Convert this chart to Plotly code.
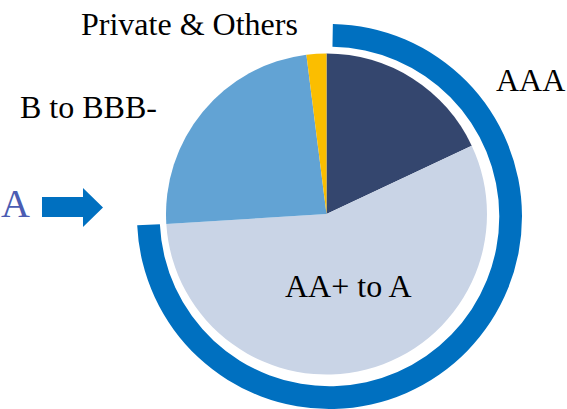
import plotly.graph_objects as go

# Portfolio split by credit rating (%)
ratings = ["AAA", "AA+ to A", "B to BBB-", "Private & Others"]
shares = [18, 56, 24, 2]
slice_colors = ["#34466E", "#C9D4E6", "#62A3D4", "#FBBE00"]

# Ratings of A and above, highlighted by the outer ring
highlight = ["AAA", "AA+ to A"]

W, H = 567, 409
FONT = "'Liberation Serif', 'DejaVu Serif', serif"


def px_x(x):
    return x / W


def px_y(y):
    return 1 - y / H


fig = go.Figure()

# Main pie
fig.add_trace(go.Pie(
    labels=ratings,
    values=shares,
    marker=dict(colors=slice_colors, line=dict(width=0)),
    sort=False,
    direction="clockwise",
    rotation=0,
    textinfo="none",
    hoverinfo="label+percent",
    domain=dict(x=[px_x(166), px_x(487)], y=[px_y(374.5), px_y(53.5)]),
    showlegend=False,
))

# Outer ring spanning the A-and-above share of the portfolio
hi_total = sum(v for r, v in zip(ratings, shares) if r in highlight)
rest_total = sum(shares) - hi_total
fig.add_trace(go.Pie(
    labels=["A and above", "other"],
    values=[hi_total, rest_total],
    marker=dict(colors=["#0070C0", "rgba(0,0,0,0)"], line=dict(width=0)),
    sort=False,
    direction="clockwise",
    rotation=1,
    hole=0.882,
    textinfo="none",
    hoverinfo="skip",
    domain=dict(x=[px_x(136), px_x(523)], y=[0, px_y(24)]),
    showlegend=False,
))

# Block arrow pointing at the ring
arrow = [(42, 197), (83, 197), (83, 188), (103, 207.5), (83, 227), (83, 217), (42, 217)]
path = "M " + " L ".join(f"{px_x(x):.5f},{px_y(y):.5f}" for x, y in arrow) + " Z"
fig.add_shape(type="path", xref="paper", yref="paper", path=path,
              fillcolor="#0070C0", line=dict(width=0))

labels = [
    ("Private & Others", 189, 23.5, "center", "#000000", 32),
    ("B to BBB-", 88.5, 107.5, "center", "#000000", 32),
    ("AAA", 530, 80.5, "center", "#000000", 32),
    ("AA+ to A", 348.5, 285.5, "center", "#000000", 32),
]
for text, x, y, anchor, color, size in labels:
    fig.add_annotation(text=text, x=px_x(x), y=px_y(y), xref="paper", yref="paper",
                       xanchor=anchor, yanchor="middle", showarrow=False,
                       font=dict(family=FONT, size=size, color=color))

fig.add_annotation(text="A", x=0, y=px_y(203.5), xref="paper", yref="paper",
                   xanchor="left", yanchor="middle", showarrow=False, borderpad=0,
                   font=dict(family=FONT, size=40, color="#4B5CB2"))

fig.update_layout(
    width=W, height=H,
    margin=dict(l=0, r=0, t=0, b=0),
    paper_bgcolor="white",
    plot_bgcolor="white",
)

fig.write_html("out.html")
